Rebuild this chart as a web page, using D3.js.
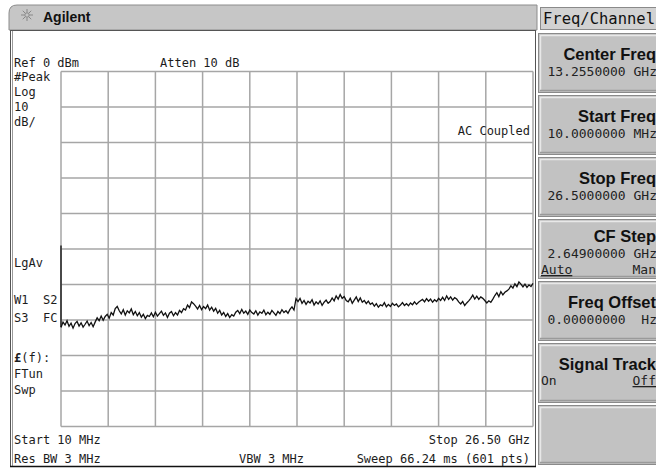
<!DOCTYPE html>
<html>
<head>
<meta charset="utf-8">
<script src="https://cdn.jsdelivr.net/npm/d3@7"></script>
<style>
  body { margin: 0; background: #fff; }
  svg text { white-space: pre; }
</style>
</head>
<body>
<div id="chart"></div>
<script>
// sweep settings
var startHz = 10e6;
var stopHz = 26.5e9;
var refLevel = 0;
var dbPerDiv = 10;
var divisions = 10;

// trace level in dBm, left to right across the sweep
var traceDbm = [
  -72.1, -70.6, -71.4, -70.2, -71.8, -70.9, -72.3, -71.0, -70.4, -71.7, -70.8, -72.0, -71.2, -70.3, -71.6, -70.7, -71.9,
  -70.6, -69.4, -70.2, -68.9, -70.1, -69.0, -68.4, -69.5,
  -67.9, -68.6, -66.8, -66.2, -67.4,
  -68.3, -67.1, -68.6, -67.4, -68.0, -66.9, -68.5, -67.6, -68.8, -67.9,
  -69.2, -68.4, -69.6, -68.7, -69.0,
  -68.0, -69.1, -67.8, -68.9, -68.2, -67.5, -68.7, -68.0, -69.3, -68.1, -67.6, -68.8, -67.9, -68.6, -67.3, -67.9, -66.8, -67.2,
  -65.8, -66.5, -64.9, -65.4, -66.1,
  -66.9, -65.9, -67.1, -66.2, -66.8, -65.8, -67.2, -66.4, -67.5, -66.7,
  -68.1, -67.3, -68.6, -67.9, -69.0, -68.2, -69.3, -68.5, -68.9, -67.8,
  -67.3, -68.2, -67.0, -68.1, -67.5, -68.4, -67.2, -67.9,
  -68.3, -67.4, -68.6, -67.7, -68.1, -67.2, -68.5, -67.8, -68.4, -67.3, -68.0, -68.7, -67.6, -68.2, -67.1, -67.9, -67.4, -68.1, -67.0, -66.3, -67.2,
  -64.0, -64.8, -63.9, -65.3, -64.5, -65.6, -64.7, -65.2, -64.3, -65.8, -64.9, -65.5, -64.6, -65.9, -65.0, -64.4, -65.3, -64.8,
  -63.8, -64.6, -63.2, -64.1, -62.8, -63.9, -63.4, -64.5,
  -64.9, -63.9, -65.3, -64.4, -63.5, -64.8, -63.8, -65.0, -64.5, -65.4, -64.7, -65.6,
  -65.2, -66.1, -65.4, -66.4, -65.7, -66.0, -65.1, -66.3, -65.6, -66.2, -65.3, -65.9, -65.5, -66.3, -65.8, -65.1, -65.9, -65.4, -66.0, -65.2, -65.7, -64.9, -65.6, -65.0, -64.6,
  -64.2, -64.9, -64.0, -64.7, -64.1, -65.0, -64.3, -64.8, -63.9, -64.5,
  -63.6, -64.5, -63.2, -64.2, -63.5, -64.4, -63.7, -64.1,
  -64.9, -65.5, -64.8, -65.9, -65.2, -64.6,
  -63.9, -63.0, -64.1, -63.3, -64.2, -63.5, -63.9,
  -64.5, -65.2, -64.6, -65.0, -64.1,
  -63.1, -62.3, -63.4, -62.0, -62.9, -62.2, -61.8,
  -61.3, -60.4, -61.0, -59.8, -60.6, -59.3, -59.9,
  -60.7, -59.9, -60.8, -60.1, -60.6, -59.7
];

var softkeyTitles = ["Center Freq", "Start Freq", "Stop Freq", "CF Step", "Freq Offset", "Signal Track", ""];
var softkeyValues = ["13.2550000 GHz", "10.0000000 MHz", "26.5000000 GHz", "2.64900000 GHz", "0.00000000  Hz", "", ""];

var width = 656;
var height = 468;
var mono = "'DejaVu Sans Mono', 'Liberation Mono', monospace";

var svg = d3
  .select("#chart")
  .append("svg")
  .attr("width", width)
  .attr("height", height);

// ---- instrument frame ----
svg.append("path")
  .attr("d", "M9,30 L9,13 Q9,5 17,5 L537,5 L537,30 Z")
  .attr("fill", "#c6c6c6")
  .attr("stroke", "#8c8c8c")
  .attr("stroke-width", 1);

svg.append("rect")
  .attr("x", 10.5).attr("y", 30.5)
  .attr("width", 525).attr("height", 436)
  .attr("fill", "#fff")
  .attr("stroke", "#555")
  .attr("stroke-width", 1);
svg.append("line")
  .attr("x1", 12.5).attr("x2", 12.5).attr("y1", 31).attr("y2", 466)
  .attr("stroke", "#9a9a9a");
svg.append("line")
  .attr("x1", 10).attr("x2", 536).attr("y1", 466.5).attr("y2", 466.5)
  .attr("stroke", "#111").attr("stroke-width", 1.5);

// sun icon
var sun = svg.append("g").attr("transform", "translate(27,15)");
d3.range(0, 8).forEach(function(k) {
  var a = (k * Math.PI) / 4;
  sun.append("line")
    .attr("x1", Math.cos(a) * 2.5).attr("y1", Math.sin(a) * 2.5)
    .attr("x2", Math.cos(a) * 6).attr("y2", Math.sin(a) * 6)
    .attr("stroke", "#888").attr("stroke-width", 1);
});
sun.append("circle").attr("r", 2.2).attr("fill", "none").attr("stroke", "#888");

svg.append("text")
  .attr("x", 43).attr("y", 22)
  .attr("font-family", "'Liberation Sans', Arial, sans-serif")
  .attr("font-weight", "bold")
  .attr("font-size", "14px")
  .attr("fill", "#111")
  .text("Agilent");

// ---- graticule ----
var x = d3.scaleLinear().domain([startHz, stopHz]).range([61, 533]);
var y = d3.scaleLinear()
  .domain([refLevel, refLevel - dbPerDiv * divisions])
  .range([71.5, 426.5]);

var xTicks = d3.range(0, divisions + 1).map(function(k) {
  return startHz + (k * (stopHz - startHz)) / divisions;
});
var yTicks = d3.range(0, divisions + 1).map(function(k) {
  return refLevel - k * dbPerDiv;
});

var grid = svg.append("g");
grid.selectAll(".vline")
  .data(xTicks)
  .enter()
  .append("line")
  .attr("class", "vline")
  .attr("x1", function(d) { return x(d); })
  .attr("x2", function(d) { return x(d); })
  .attr("y1", y(yTicks[0]))
  .attr("y2", y(yTicks[divisions]))
  .attr("stroke", "#a6a6a6")
  .attr("stroke-width", 1.5);
grid.selectAll(".hline")
  .data(yTicks)
  .enter()
  .append("line")
  .attr("class", "hline")
  .attr("y1", function(d) { return y(d); })
  .attr("y2", function(d) { return y(d); })
  .attr("x1", x(startHz))
  .attr("x2", x(stopHz))
  .attr("stroke", "#a6a6a6")
  .attr("stroke-width", 1.5);

// display line marker on left edge
svg.append("line")
  .attr("x1", x(startHz)).attr("x2", x(startHz))
  .attr("y1", y(-49)).attr("y2", y(-72))
  .attr("stroke", "#222").attr("stroke-width", 1.5);

// ---- trace ----
var tracePts = traceDbm.map(function(v, i) {
  return { f: startHz + (i * (stopHz - startHz)) / (traceDbm.length - 1), v: v };
});
var line = d3.line()
  .x(function(d) { return x(d.f); })
  .y(function(d) { return y(d.v); });
svg.append("path")
  .datum(tracePts)
  .attr("d", line)
  .attr("fill", "none")
  .attr("stroke", "#111")
  .attr("stroke-width", 1.3);

// ---- screen annotations ----
function label(t, px, py, anchor) {
  return svg.append("text")
    .attr("transform", "translate(" + px + "," + py + ") scale(0.96,1)")
    .attr("text-anchor", anchor || "start")
    .attr("font-family", mono)
    .attr("font-size", "12.5px")
    .attr("fill", "#1c1c1c")
    .text(t);
}
label("Ref 0 dBm", 14, 67);
label("Atten 10 dB", 160, 67);
label("#Peak", 14, 81);
label("Log", 14, 96);
label("10", 14, 111);
label("dB/", 14, 126);
label("AC Coupled", 530, 135, "end");
label("LgAv", 14, 267);
label("W1", 14, 304);
label("S2", 43, 304);
label("S3", 14, 322);
label("FC", 43, 322);
var lf = label("", 14, 362);
lf.append("tspan").attr("font-weight", "bold").text("£");
lf.append("tspan").text("(f):");
label("FTun", 14, 378);
label("Swp", 14, 394);
label("Start 10 MHz", 14, 444);
label("Res BW 3 MHz", 14, 463);
label("VBW 3 MHz", 239, 463);
label("Stop 26.50 GHz", 530, 444, "end");
label("Sweep 66.24 ms (601 pts)", 530, 463, "end");

// ---- softkey panel ----
svg.append("rect")
  .attr("x", 540.5).attr("y", 7.5)
  .attr("width", 120).attr("height", 22)
  .attr("fill", "#d2d2d2")
  .attr("stroke", "#8a8a8a");
svg.append("text")
  .attr("x", 543).attr("y", 24)
  .attr("font-family", mono)
  .attr("font-size", "15.5px")
  .attr("fill", "#111")
  .text("Freq/Channel");

// CF Step carries a third line, so its text sits higher
function titleY(i) { return i === 3 ? 23 : 27; }
function valueY(i) { return i === 3 ? 39 : 43; }

var keys = svg.selectAll(".key")
  .data(softkeyTitles)
  .enter()
  .append("g")
  .attr("class", "key")
  .attr("transform", function(d, i) { return "translate(538," + (33 + i * 62) + ")"; });

keys.append("rect")
  .attr("x", 0.5).attr("y", 0.5)
  .attr("width", 125).attr("height", 59)
  .attr("fill", "#c2c2c2")
  .attr("stroke", "#8a8a8a");
keys.append("path")
  .attr("d", "M2.5,57 L2.5,2.5 L125,2.5")
  .attr("fill", "none")
  .attr("stroke", "#e8e8e8")
  .attr("stroke-width", 1.5);
keys.append("line")
  .attr("x1", 2).attr("x2", 125).attr("y1", 57.5).attr("y2", 57.5)
  .attr("stroke", "#9a9a9a").attr("stroke-width", 1.5);

keys.append("text")
  .attr("x", 118)
  .attr("y", function(d, i) { return titleY(i); })
  .attr("text-anchor", "end")
  .attr("font-family", "'Liberation Sans', Arial, sans-serif")
  .attr("font-weight", "bold")
  .attr("font-size", "16.5px")
  .attr("fill", "#111")
  .text(function(d) { return d; });
keys.append("text")
  .attr("x", 119)
  .attr("y", function(d, i) { return valueY(i); })
  .attr("text-anchor", "end")
  .attr("font-family", mono)
  .attr("font-size", "13px")
  .attr("fill", "#222")
  .text(function(d, i) { return softkeyValues[i]; });

function keyNote(i, t, px, py, anchor, underline) {
  svg.append("text")
    .attr("x", px).attr("y", 33 + i * 62 + py)
    .attr("text-anchor", anchor)
    .attr("font-family", mono)
    .attr("font-size", "13px")
    .attr("fill", "#222")
    .attr("text-decoration", underline ? "underline" : null)
    .text(t);
}
keyNote(3, "Auto", 541, 55, "start", true);
keyNote(3, "Man", 656, 55, "end", false);
keyNote(5, "On", 541, 42, "start", false);
keyNote(5, "Off", 656, 42, "end", true);
</script>
</body>
</html>
